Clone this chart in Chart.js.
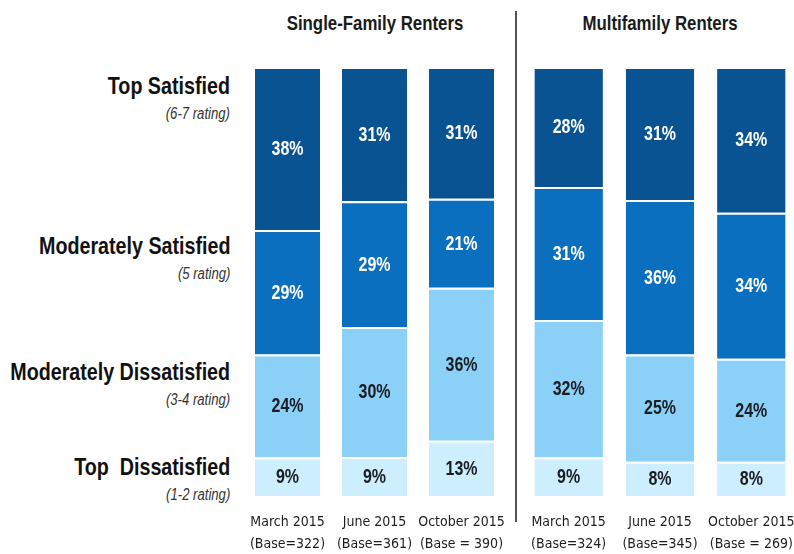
<!DOCTYPE html>
<html>
<head>
<meta charset="utf-8">
<script src="https://cdn.jsdelivr.net/npm/chart.js@4.4.1/dist/chart.umd.min.js"></script>
<style>
  body { margin: 0; width: 794px; height: 554px; overflow: hidden; position: relative; background: #fff;
         font-family: 'Liberation Sans', Arial, sans-serif; }
  #leftBox { position: absolute; left: 0; top: 0; width: 516px; height: 554px; }
  #rightBox { position: absolute; left: 516px; top: 0; width: 284px; height: 554px; }
  .divider { position: absolute; left: 515px; top: 11px; width: 2px; height: 511px; background: #555; z-index: 2; }
  .grpTitle { position: absolute; top: 11px; width: 260px; text-align: center; font-weight: bold; font-size: 20.5px;
              color: #1a1a1a; transform: scaleX(0.82); transform-origin: center; }
  .cat { position: absolute; right: 564px; text-align: right; white-space: nowrap; transform: scaleX(0.82); transform-origin: right; }
  .cat .main { font-weight: bold; font-size: 24px; color: #111; line-height: 28px; }
  .cat .sub { font-style: italic; font-size: 16px; color: #333; line-height: 18px; margin-top: 5px; }
</style>
</head>
<body>
<div class="grpTitle" style="left:245px">Single-Family Renters</div>
<div class="grpTitle" style="left:530px">Multifamily Renters</div>
<div class="divider"></div>

<div class="cat" style="top:72px"><div class="main">Top Satisfied</div><div class="sub">(6-7 rating)</div></div>
<div class="cat" style="top:232px"><div class="main">Moderately Satisfied</div><div class="sub">(5 rating)</div></div>
<div class="cat" style="top:358px"><div class="main">Moderately Dissatisfied</div><div class="sub">(3-4 rating)</div></div>
<div class="cat" style="top:453px"><div class="main">Top&nbsp; Dissatisfied</div><div class="sub">(1-2 rating)</div></div>

<div id="leftBox"><canvas id="leftChart" width="516" height="554"></canvas></div>
<div id="rightBox"><canvas id="rightChart" width="284" height="554"></canvas></div>

<script>
// bar labels (two lines each)
const sfLabels = [['March 2015', '(Base=322)'], ['June 2015', '(Base=361)'], ['October 2015', '(Base = 390)']];
const mfLabels = [['March 2015', '(Base=324)'], ['June 2015', '(Base=345)'], ['October 2015', '(Base = 269)']];

// single-family renters, percent per rating band
const sfTopSat = [38, 31, 31];
const sfModSat = [29, 29, 21];
const sfModDis = [24, 30, 36];
const sfTopDis = [9, 9, 13];

// multifamily renters
const mfTopSat = [28, 31, 34];
const mfModSat = [31, 36, 34];
const mfModDis = [32, 25, 24];
const mfTopDis = [9, 8, 8];

const colors = {
  topDis: '#cdeefc',
  modDis: '#8bd0f7',
  modSat: '#0a6fbf',
  topSat: '#0a5393'
};
Chart.defaults.font.family = "'DejaVu Sans Condensed', 'Liberation Sans', sans-serif";

// the printed shares don't always add to 100, bars are drawn full height anyway
function shares(arr, all) {
  return arr.map((v, i) => {
    let tot = 0;
    all.forEach(a => { tot += a[i]; });
    return v / tot * 100;
  });
}

function makeSets(topDis, modDis, modSat, topSat) {
  const all = [topDis, modDis, modSat, topSat];
  const mk = (arr, col, txt) => ({
    data: shares(arr, all),
    pct: arr,
    txtColor: txt,
    backgroundColor: col,
    borderColor: '#ffffff',
    borderWidth: { top: 2, right: 0, bottom: 0, left: 0 },
    borderSkipped: false,
    barPercentage: 0.75,
    categoryPercentage: 1
  });
  return [
    mk(topDis, colors.topDis, '#1b1b22'),
    mk(modDis, colors.modDis, '#1b1b22'),
    mk(modSat, colors.modSat, '#ffffff'),
    mk(topSat, colors.topSat, '#ffffff')
  ];
}

// percent text in the middle of each segment, squeezed to look like a narrow face
const pctLabels = {
  id: 'pctLabels',
  afterDatasetsDraw(chart) {
    const ctx = chart.ctx;
    chart.data.datasets.forEach((ds, di) => {
      const meta = chart.getDatasetMeta(di);
      meta.data.forEach((bar, i) => {
        ctx.save();
        ctx.translate(bar.x, (bar.y + bar.base) / 2 + 1);
        ctx.scale(0.82, 1);
        ctx.font = "bold 19.5px 'Liberation Sans', Arial, sans-serif";
        ctx.textAlign = 'center';
        ctx.textBaseline = 'middle';
        ctx.fillStyle = ds.txtColor;
        ctx.fillText(ds.pct[i] + '%', 0, 0);
        ctx.restore();
      });
    });
  }
};

function makeChart(id, labels, sets, padL, padR) {
  return new Chart(document.getElementById(id), {
    type: 'bar',
    data: { labels: labels, datasets: sets },
    options: {
      responsive: false,
      animation: false,
      layout: { padding: { left: padL, right: padR, top: 67, bottom: 0 } },
      plugins: { legend: { display: false }, tooltip: { enabled: false } },
      scales: {
        x: {
          stacked: true,
          grid: { display: false, drawTicks: false },
          border: { display: false },
          ticks: { color: '#1e1e1e', font: { size: 14, lineHeight: 1.6 }, padding: 15, maxRotation: 0, autoSkip: false },
          afterFit(scale) {
            scale.height = 58;
            scale.paddingLeft = 0;
            scale.paddingRight = 0;
          }
        },
        y: { stacked: true, display: false, min: 0, max: 100 }
      }
    },
    plugins: [pctLabels]
  });
}

makeChart('leftChart', sfLabels, makeSets(sfTopDis, sfModDis, sfModSat, sfTopSat), 244, 11);
makeChart('rightChart', mfLabels, makeSets(mfTopDis, mfModDis, mfModSat, mfTopSat), 7, 3);
</script>
</body>
</html>
